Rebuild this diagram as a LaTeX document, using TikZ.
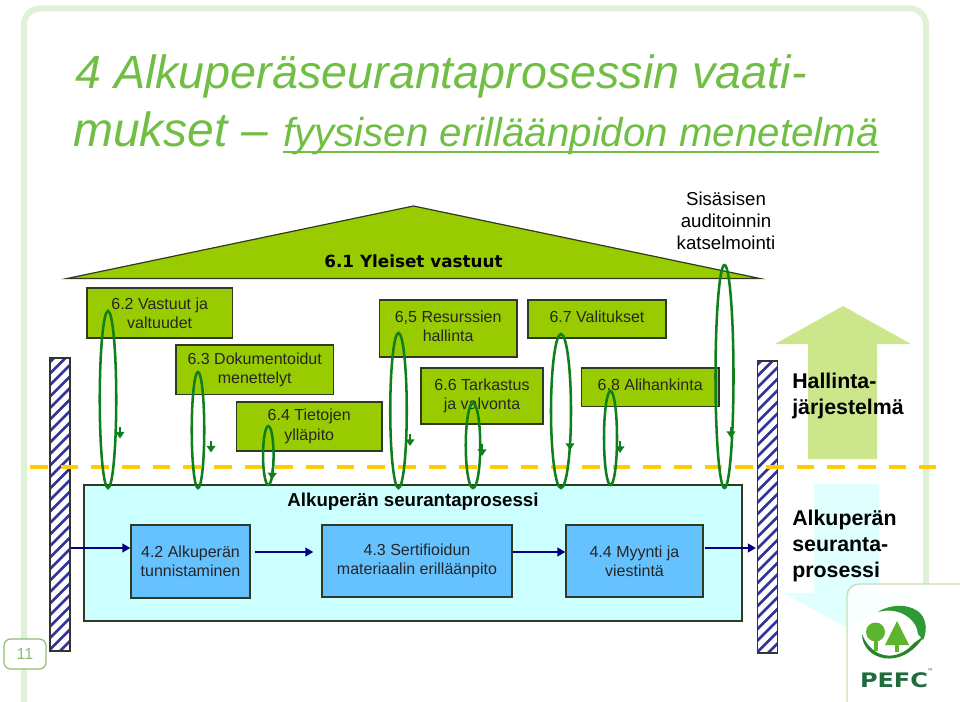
\documentclass[tikz,border=0pt]{standalone}
\usepackage{fontspec}
\setmainfont{Liberation Sans}
\newfontfamily\roofface{DejaVu Sans}
\usetikzlibrary{arrows.meta,shapes.geometric}
\definecolor{framegreen}{HTML}{DFF1D6}
\definecolor{titlegreen}{HTML}{70BF44}
\definecolor{boxgreen}{HTML}{99CC00}
\definecolor{edgedark}{HTML}{2F3A20}
\definecolor{loopgreen}{HTML}{0F7F1C}
\definecolor{panelcyan}{HTML}{CCFFFF}
\definecolor{boxblue}{HTML}{66C2FF}
\definecolor{navyflow}{HTML}{000080}
\definecolor{stripe}{HTML}{333399}
\definecolor{dashyellow}{HTML}{FFCC00}
\definecolor{upgreen}{HTML}{CCE68C}
\definecolor{downcyan}{HTML}{E0FFFF}
\definecolor{numgreen}{HTML}{8FBC74}
\definecolor{logoedge}{HTML}{CBDDB6}
\definecolor{logogreen}{HTML}{2E9A36}
\definecolor{logodark}{HTML}{1E6B3C}
\definecolor{treegreen}{HTML}{5DB52E}
\newcommand{\thickul}[1]{\setbox0\hbox{#1}\rlap{\raisebox{-4.7pt}{\rule{\wd0}{1.9pt}}}\box0}
\tikzset{
  gbox/.style={draw=edgedark,line width=1pt,fill=boxgreen,inner sep=0pt,align=center,font=\fontsize{12pt}{14.5pt}\selectfont,text=black!85},
  bbox/.style={draw=edgedark,line width=1pt,fill=boxblue,inner sep=0pt,align=center,font=\fontsize{12pt}{14.5pt}\selectfont,text=black!85},
  loopring/.style={ellipse,draw=loopgreen,line width=1.9pt,inner sep=0pt},
  looparrow/.style={draw=loopgreen,line width=1.3pt,-{Triangle[width=6.5pt,length=5pt]}},
  flow/.style={draw=navyflow,line width=1.9pt,-{Triangle[width=6.5pt,length=6pt]}},
  hatchbar/.style={draw=black!80,line width=.8pt,inner sep=0pt,fill=white,path picture={
    \foreach \k in {0,...,36}{\draw[stripe,line width=1.9pt] (-30,-180+\k*11.5) -- (30,-240+\k*11.5);}
  }},
  sidelabel/.style={anchor=west,align=left,font=\bfseries\fontsize{16pt}{19.6pt}\selectfont,inner sep=0pt},
  titletext/.style={anchor=base west,inner sep=0pt,text=titlegreen},
}
\begin{document}
\begin{tikzpicture}[x=0.75pt,y=-0.75pt]
\useasboundingbox (0,0) rectangle (960,702);
% frame
\draw[framegreen,line width=4.5pt,rounded corners=12pt] (24,702) -- (24,8.5) -- (926,8.5) -- (926,585);
% title
\node[titletext] (t1) at (75,89) {\itshape\fontsize{35pt}{40pt}\selectfont 4 Alkuperäseurantaprosessin vaati-};
\node[titletext] (t2) at (73,147) {\itshape\fontsize{36pt}{40pt}\selectfont mukset –};
\node[titletext] (t3) at (283,147) {\itshape\fontsize{30.2pt}{34pt}\selectfont\thickul{fyysisen erilläänpidon menetelmä}};
% big arrows
\fill[upgreen] (775,344) -- (843,306) -- (911,344) -- (877,344) -- (877,459) -- (808,459) -- (808,344) -- cycle;
\fill[downcyan] (814,484) -- (879,484) -- (879,593) -- (912,593) -- (847.5,628) -- (783,593) -- (814,593) -- cycle;
% logo panel
\draw[logoedge,line width=1.1pt,fill=white,fill opacity=.8,rounded corners=9pt] (962,584) -- (847,584) -- (847,704);
% roof
\draw[draw=edgedark,line width=.9pt,fill=boxgreen,line join=miter] (67,278.5) -- (413.5,206) -- (760,278.5) -- cycle;
\node[inner sep=0pt,text=black] (roof) at (413.5,261) {\roofface\bfseries\fontsize{12.6pt}{14pt}\selectfont 6.1 Yleiset vastuut};
\node[align=center,inner sep=0pt,font=\fontsize{14pt}{16.4pt}\selectfont] (audit) at (726,221) {Sisäsisen\\auditoinnin\\katselmointi};
% green boxes
\node[gbox,minimum width=145.5*.75pt,minimum height=50*.75pt] (b62) at (159.7,313) {6.2 Vastuut ja\\valtuudet};
\node[gbox,minimum width=157.5*.75pt,minimum height=49.5*.75pt] (b63) at (254.7,369.7) {6.3 Dokumentoidut\\menettelyt};
\node[gbox,minimum width=145.5*.75pt,minimum height=49*.75pt] (b64) at (309.2,426.5) {\raisebox{-1pt}{6.4 Tietojen}\\\raisebox{-1pt}{ylläpito}};
\node[gbox,minimum width=137.5*.75pt,minimum height=57*.75pt] (b65) at (448.2,328.5) {\raisebox{3pt}{6,5 Resurssien}\\\raisebox{3pt}{hallinta}};
\node[gbox,minimum width=122*.75pt,minimum height=56*.75pt] (b66) at (482,396) {\raisebox{2pt}{6.6 Tarkastus}\\\raisebox{2pt}{ja valvonta}};
\node[gbox,minimum width=138*.75pt,minimum height=38*.75pt] (b67) at (597,319) {\raisebox{3pt}{6.7 Valitukset}};
\node[gbox,minimum width=137.5*.75pt,minimum height=38.5*.75pt] (b68) at (650.2,387.2) {\raisebox{3pt}{6.8 Alihankinta}};
% hatched bars
\node[hatchbar,minimum width=20*.75pt,minimum height=293*.75pt] (barL) at (60,504.5) {};
\node[hatchbar,minimum width=19.5*.75pt,minimum height=292*.75pt] (barR) at (767.5,507) {};
% process panel
\node[draw=edgedark,line width=1pt,fill=panelcyan,inner sep=0pt,minimum width=658*.75pt,minimum height=136*.75pt] (panel) at (413,553) {};
\node[inner sep=0pt,font=\bfseries\fontsize{14pt}{16pt}\selectfont] (ptitle) at (413,502) {Alkuperän seurantaprosessi};
\node[bbox,minimum width=119*.75pt,minimum height=73*.75pt] (b42) at (190.5,561.5) {4.2 Alkuperän\\tunnistaminen};
\node[bbox,minimum width=190*.75pt,minimum height=72*.75pt] (b43) at (417,561) {4.3 Sertifioidun\\materiaalin erilläänpito};
\node[bbox,minimum width=137*.75pt,minimum height=72*.75pt] (b44) at (634.5,561) {4.4 Myynti ja\\viestintä};
\coordinate (fa) at (0,548);
\coordinate (fb) at (0,552);
\draw[flow] (barL.east |- fa) -- (b42.west |- fa);
\draw[flow,shorten <=3pt,shorten >=6pt] (b42.east |- fb) -- (b43.west |- fb);
\draw[flow] (b43.east |- fb) -- (b44.west |- fb);
\draw[flow,shorten <=1pt] (b44.east |- fa) -- ([xshift=-1pt]barR.west |- fa);
% dashed line
\coordinate (dashL) at (30,467);
\coordinate (dashR) at (936,467);
\draw[dashyellow,line width=3.2pt,dash pattern=on 13.2pt off 9.8pt] (dashL) -- (dashR);
% loops
\node[loopring,minimum width=16.5*.75pt,minimum height=177*.75pt] (l1) at (108,399.5) {};
\node[loopring,minimum width=12.5*.75pt,minimum height=116*.75pt] (l2) at (198,430) {};
\node[loopring,minimum width=10.5*.75pt,minimum height=59*.75pt] (l3) at (268.3,455.5) {};
\node[loopring,minimum width=16.5*.75pt,minimum height=155*.75pt] (l4) at (398.5,410.5) {};
\node[loopring,minimum width=14.5*.75pt,minimum height=85*.75pt] (l5) at (473,445.5) {};
\node[loopring,minimum width=20*.75pt,minimum height=154*.75pt] (l6) at (561,411) {};
\node[loopring,minimum width=13*.75pt,minimum height=94*.75pt] (l7) at (610.5,438) {};
\node[loopring,minimum width=18*.75pt,minimum height=223*.75pt] (l8) at (724.5,376.5) {};
% loop arrows
\coordinate (a1s) at (120,427); \coordinate (a1e) at (120,438.5);
\coordinate (a2s) at (211,441); \coordinate (a2e) at (211,452.5);
\coordinate (a3s) at (272.5,468); \coordinate (a3e) at (272,479.5);
\coordinate (a4s) at (410,434); \coordinate (a4e) at (410,446);
\coordinate (a5s) at (482,444); \coordinate (a5e) at (482,456);
\coordinate (a6s) at (570,440); \coordinate (a6e) at (570,450);
\coordinate (a7s) at (620,441); \coordinate (a7e) at (620,453);
\coordinate (a8s) at (731,427); \coordinate (a8e) at (731,438);
\foreach \i in {1,...,8}{\draw[looparrow] (a\i s) -- (a\i e);}
% side labels
\node[sidelabel] (hj) at (792,396) {Hallinta-\\järjestelmä};
\node[sidelabel] (as) at (792,546) {Alkuperän\\seuranta-\\prosessi};
% page number
\node[draw=numgreen,line width=.9pt,rounded corners=5pt,fill=white,minimum width=42*.75pt,minimum height=30*.75pt,inner sep=0pt,text=numgreen,font=\fontsize{12pt}{14pt}\selectfont] (pageno) at (25,654) {11};
% logo
\fill[logogreen] (878,612) .. controls (892,603) and (912,604) .. (921,614) .. controls (927,622) and (927,632) .. (923,640) -- (918,634) .. controls (917,620) and (900,606) .. (878,612) -- cycle;
\fill[logogreen!85!black] (862,634) .. controls (862,660) and (902,672) .. (924,636) -- (914,643) .. controls (898,662) and (872,660) .. (862,634) -- cycle;
\fill[treegreen] (875.5,632) circle[radius=9.5];
\fill[treegreen] (873.5,638) rectangle (877.5,651);
\fill[treegreen] (897,621) -- (909,645) -- (885,645) -- cycle;
\fill[treegreen] (895,645) rectangle (899,652);
\node[inner sep=0pt,text=logodark,xscale=1.2,font=\roofface\bfseries\fontsize{15pt}{16pt}\selectfont] (pefc) at (894,680.5) {PEFC};
\node[inner sep=0pt,text=logodark,font=\fontsize{4pt}{5pt}\selectfont] (tm) at (930,671) {™};
\end{tikzpicture}
\end{document}
